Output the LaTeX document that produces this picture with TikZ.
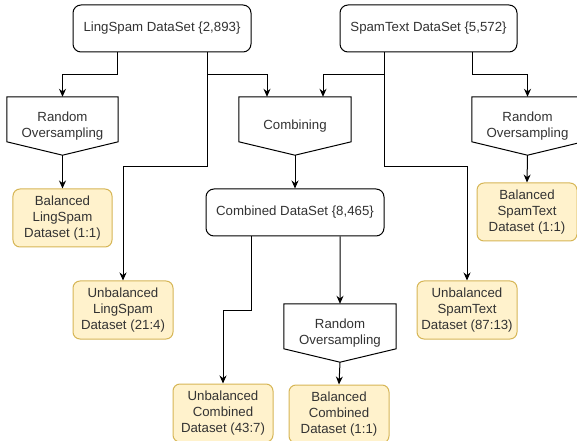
\documentclass[tikz,border=0pt]{standalone}
\usepackage{fontspec}
\setmainfont{Liberation Sans}
\usetikzlibrary{arrows.meta,calc}
\definecolor{noteFill}{HTML}{FFF2CC}
\definecolor{noteLine}{HTML}{D6B656}
\definecolor{ink}{HTML}{333333}
\begin{document}
\begin{tikzpicture}[x=1bp,y=-1bp,
  every node/.style={font=\fontsize{13.3}{16}\selectfont,text=ink,align=center,inner sep=0pt},
  datasrc/.style={draw=black,line width=1bp,rounded corners=8bp,fill=white,minimum width=178bp,minimum height=47bp},
  result/.style={draw=noteLine,line width=1bp,rounded corners=7bp,fill=noteFill,minimum width=100bp,minimum height=58bp},
  procbox/.style={minimum width=111bp,minimum height=58bp},
  proc/.style={draw=black,line width=1bp,fill=white,line join=miter},
  arr/.style={draw=black,line width=1bp,-{Stealth[length=8bp,width=7bp]}}]
\useasboundingbox (0,0) rectangle (577,441);

% source data sets
\node[datasrc] (ling) at (162,28.5) {LingSpam DataSet \{2,893\}};
\node[datasrc,minimum width=177bp] (spam) at (428.5,28.5) {SpamText DataSet \{5,572\}};

% processing steps (off-page connector outlines)
\newcommand{\procshape}[1]{%
  \draw[proc] (#1.north west) -- (#1.north east) -- ($(#1.north east)+(0,45)$)
    -- (#1.south) -- ($(#1.north west)+(0,45)$) -- cycle;}
\node[procbox] (ro1) at (62.5,126) {};
\node[procbox,minimum width=112bp] (comb) at (295,126) {};
\node[procbox] (ro2) at (527.5,126) {};
\node[procbox,minimum width=112bp] (ro3) at (340,333) {};
\procshape{ro1}\procshape{comb}\procshape{ro2}\procshape{ro3}
\node at (ro1) {Random\\Oversampling};
\node at (comb) {Combining};
\node at (ro2) {Random\\Oversampling};
\node at (ro3) {Random\\Oversampling};

% combined data set
\node[datasrc] (combined) at (295,212.5) {Combined DataSet \{8,465\}};

% resulting data sets
\node[result,minimum width=99bp] (bal1) at (62.5,218) {Balanced\\LingSpam\\Dataset (1:1)};
\node[result] (bal2) at (527,212) {Balanced\\SpamText\\Dataset (1:1)};
\node[result] (unb1) at (123,310) {Unbalanced\\LingSpam\\Dataset (21:4)};
\node[result] (unb2) at (467,310) {Unbalanced\\SpamText\\Dataset (87:13)};
\node[result] (unbc) at (223,413) {Unbalanced\\Combined\\Dataset (43:7)};
\node[result] (balc) at (339,414) {Balanced\\Combined\\Dataset (1:1)};

% connectors from LingSpam
\draw[arr] ([xshift=-45bp]ling.south) -- ++(0,22) -| (ro1.north);
\draw[arr] ([xshift=45bp]ling.south) -- ++(0,22) -| ([xshift=-28bp]comb.north);
\draw[arr] ([xshift=45bp]ling.south) -- ++(0,114) -| (unb1.north);

% connectors from SpamText
\draw[arr] ([xshift=-44.5bp]spam.south) -- ++(0,22) -| ([xshift=28bp]comb.north);
\draw[arr] ([xshift=-44.5bp]spam.south) -- ++(0,114) -| (unb2.north);
\draw[arr] ([xshift=43.5bp]spam.south) -- ++(0,22) -| (ro2.north);

% processing outputs
\draw[arr] (ro1.south) -- (bal1.north);
\draw[arr] (comb.south) -- (combined.north);
\draw[arr] (ro2.south) -- (bal2.north);
\draw[arr] ([xshift=-44bp]combined.south) -- ++(0,74) -| (unbc.north);
\draw[arr] ([xshift=45bp]combined.south) -- (ro3.north);
\draw[arr] (ro3.south) -- (balc.north);
\end{tikzpicture}
\end{document}
